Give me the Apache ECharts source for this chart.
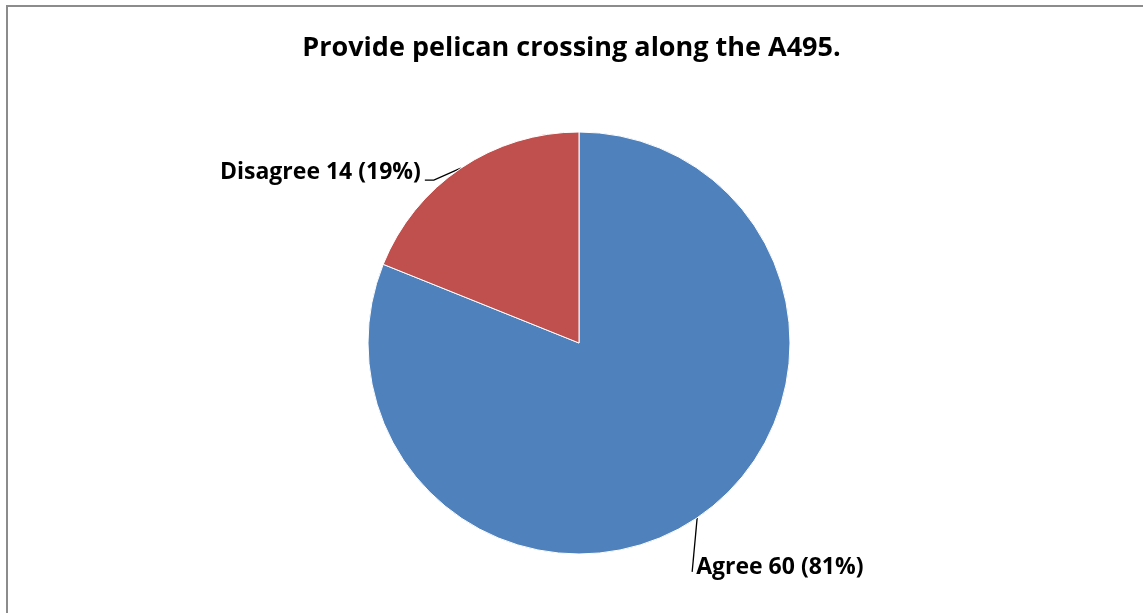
<!DOCTYPE html>
<html>
<head>
<meta charset="utf-8">
<script src="https://cdn.jsdelivr.net/npm/echarts@6/dist/echarts.min.js"></script>
<style>
html,body{margin:0;padding:0;background:#fff;}
#chart{width:1143px;height:613px;}
</style>
</head>
<body>
<div id="chart"></div>
<script>
const titleText = 'Provide pelican crossing along the A495.';
const categories = ['Agree', 'Disagree'];
const counts = [60, 14];
const percents = [81, 19];
const colors = ['#4F81BD', '#C0504D'];

const FONT = '"Open Sans", Lato, sans-serif';
const chart = echarts.init(document.getElementById('chart'));

const data = categories.map((c, i) => ({
  name: c,
  value: counts[i],
  pct: percents[i],
  itemStyle: { color: colors[i] }
}));

chart.setOption({
  animation: false,
  title: {
    text: titleText,
    left: 'center',
    top: 30,
    textStyle: { fontFamily: FONT, fontWeight: 'bold', fontSize: 27, color: '#000' }
  },
  graphic: [{
    type: 'rect',
    silent: true,
    shape: { x: 7, y: 6, width: 1300, height: 800 },
    style: { fill: 'none', stroke: '#8c8c8c', lineWidth: 2 }
  }],
  series: [{
    type: 'pie',
    center: [579, 343],
    radius: 211,
    startAngle: 90,
    clockwise: true,
    data: data,
    itemStyle: { borderColor: '#fff', borderWidth: 1 },
    label: {
      show: true,
      position: 'outside',
      formatter: p => p.name + ' ' + p.value + ' (' + p.data.pct + '%)',
      fontFamily: FONT,
      fontWeight: 'bold',
      fontSize: 23,
      color: '#000'
    },
    labelLine: { show: true, lineStyle: { color: '#000', width: 1.3 }, length: 20, length2: 10 },
    labelLayout: function (params) {
      const a = params.labelLinePoints ? params.labelLinePoints[0] : null;
      if (!a) return {};
      if (params.dataIndex === 1) {
        const p1 = [a[0] - 27, a[1] + 12];
        const p2 = [p1[0] - 9, p1[1]];
        return {
          x: p2[0] - 4, y: p2[1] - 8,
          align: 'right', verticalAlign: 'middle',
          labelLinePoints: [a, p1, p2]
        };
      } else {
        const p1 = [a[0] - 5, a[1] + 54];
        return {
          x: p1[0] + 4, y: p1[1] - 4,
          align: 'left', verticalAlign: 'middle',
          labelLinePoints: [a, p1, p1]
        };
      }
    }
  }]
});
</script>
</body>
</html>
